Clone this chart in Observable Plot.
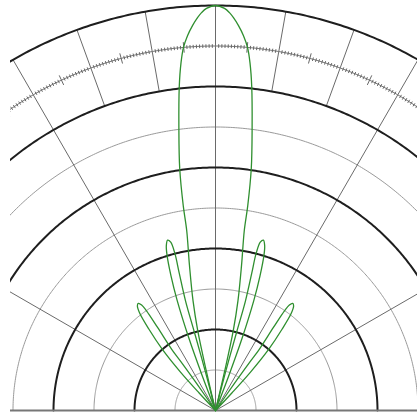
<!DOCTYPE html>
<html>
<head>
<meta charset="utf-8">
<script src="https://cdn.jsdelivr.net/npm/d3@7"></script>
<script src="https://cdn.jsdelivr.net/npm/@observablehq/plot@0.6"></script>
<style>
  html, body { margin: 0; padding: 0; background: #fff; }
  #chart svg { display: block; }
</style>
</head>
<body>
<div id="chart"></div>
<script>
// ---- data (radius in ring units, angles in degrees; 90° = broadside) ----
const thickRings = [2, 4, 6, 8, 10];
const thinRings = [1, 3, 5, 7];
const tickRing = 9;
const fullSpokes = [30, 60, 90, 120, 150];
const outerSpokes = [40, 50, 70, 80, 100, 110, 130, 140];
const outerSpokeFrom = 8;
const outerSpokeTo = 10;

// main lobe half (offset from 90°, radius), null -> peak
const mainOffset = [13.5, 13.1, 12.54, 11.56, 10.17, 9.09, 8.95, 8.41, 7.37, 6.38, 5.66, 5.04, 4.27, 3.42, 2.62, 2.01, 1.28, 0];
const mainR      = [0,    1.01, 2.02,  2.77,  3.64,  4.5,  5.12, 6.04, 7.05, 8.05, 8.63, 9.0,  9.28, 9.52, 9.71, 9.83, 9.93, 10];

// first side lobe (offset from 90°, radius), inner null -> outer null
const side1Offset = [13.8, 14.6, 15.1, 15.3, 14.8, 14.5, 14.9, 15.7, 16.6, 17.3, 18.3, 19.2, 20.2, 20.9, 21.2];
const side1R      = [0,    1.0,  2.0,  2.8,  3.5,  4.0,  4.3,  4.37, 4.25, 4.03, 3.5,  2.88, 1.9,  0.9,  0];

// second side lobe
const side2Offset = [34.5, 35.0, 35.4, 35.6, 34.9, 34.7, 35.0, 35.8, 36.8, 37.9, 39.3, 41.0, 42.3, 43.0, 43.3];
const side2R      = [0,    0.8,  1.5,  1.85, 2.5,  3.0,  3.18, 3.26, 3.22, 3.05, 2.6,  2.0,  1.3,  0.6,  0];

// ---- geometry helpers ----
const d2r = Math.PI / 180;
const px = (a, r) => r * Math.cos(a * d2r);
const py = (a, r) => r * Math.sin(a * d2r);

const ringPts = (rings) => rings.flatMap(k => d3.range(0, 180.01, 0.5).map(a => ({k, a, r: k})));

// lobes
const lobes = [];
{
  const pts = [];
  mainOffset.forEach((o, i) => pts.push({id: "main", a: 90 - o, r: mainR[i]}));
  for (let i = mainOffset.length - 2; i >= 0; i--) pts.push({id: "main", a: 90 + mainOffset[i], r: mainR[i]});
  lobes.push(...pts);
  [["s1", side1Offset, side1R], ["s2", side2Offset, side2R]].forEach(([id, off, rr]) => {
    off.forEach((o, i) => lobes.push({id: id + "L", a: 90 + o, r: rr[i]}));
    off.forEach((o, i) => lobes.push({id: id + "R", a: 90 - o, r: rr[i]}));
  });
}

const spokes = [
  ...fullSpokes.map(a => ({a, r1: 0, r2: 10})),
  ...outerSpokes.map(a => ({a, r1: outerSpokeFrom, r2: outerSpokeTo}))
];

const ticks = d3.range(0, 180.01, 0.5).filter(a => a % 10 !== 0).map(a => ({a, big: a % 10 === 5}));

const W = 417, H = 415, cx = 215, cy = 410, unit = 40.5, left = 10;

const chart = Plot.plot({
  width: W,
  height: H,
  marginLeft: left, marginRight: 0, marginTop: 0, marginBottom: 0,
  x: {domain: [(left - cx) / unit, (W - cx) / unit], axis: null},
  y: {domain: [(cy - H) / unit, cy / unit], axis: null},
  marks: [
    Plot.line(ringPts(thinRings), {x: d => px(d.a, d.r), y: d => py(d.a, d.r), z: "k", stroke: "#9a9a9a", strokeWidth: 1, clip: true}),
    Plot.link(spokes, {x1: d => px(d.a, d.r1), y1: d => py(d.a, d.r1), x2: d => px(d.a, d.r2), y2: d => py(d.a, d.r2), stroke: "#6a6a6a", strokeWidth: 1, clip: true}),
    Plot.line(ringPts([tickRing]), {x: d => px(d.a, d.r), y: d => py(d.a, d.r), z: "k", stroke: "#777", strokeWidth: 1, clip: true}),
    Plot.link(ticks, {
      x1: d => px(d.a, tickRing - (d.big ? 0.13 : 0.045)), y1: d => py(d.a, tickRing - (d.big ? 0.13 : 0.045)),
      x2: d => px(d.a, tickRing + (d.big ? 0.13 : 0.045)), y2: d => py(d.a, tickRing + (d.big ? 0.13 : 0.045)),
      stroke: "#666", strokeWidth: 1, clip: true
    }),
    Plot.line(ringPts(thickRings), {x: d => px(d.a, d.r), y: d => py(d.a, d.r), z: "k", stroke: "#1e1e1e", strokeWidth: 2, clip: true}),
    Plot.ruleY([0], {stroke: "#777", strokeWidth: 2, clip: true}),
    Plot.line(lobes, {x: d => px(d.a, d.r), y: d => py(d.a, d.r), z: "id", stroke: "#2f8f2f", strokeWidth: 1.3, curve: "catmull-rom", clip: true})
  ]
});
document.getElementById("chart").appendChild(chart);
</script>
</body>
</html>
